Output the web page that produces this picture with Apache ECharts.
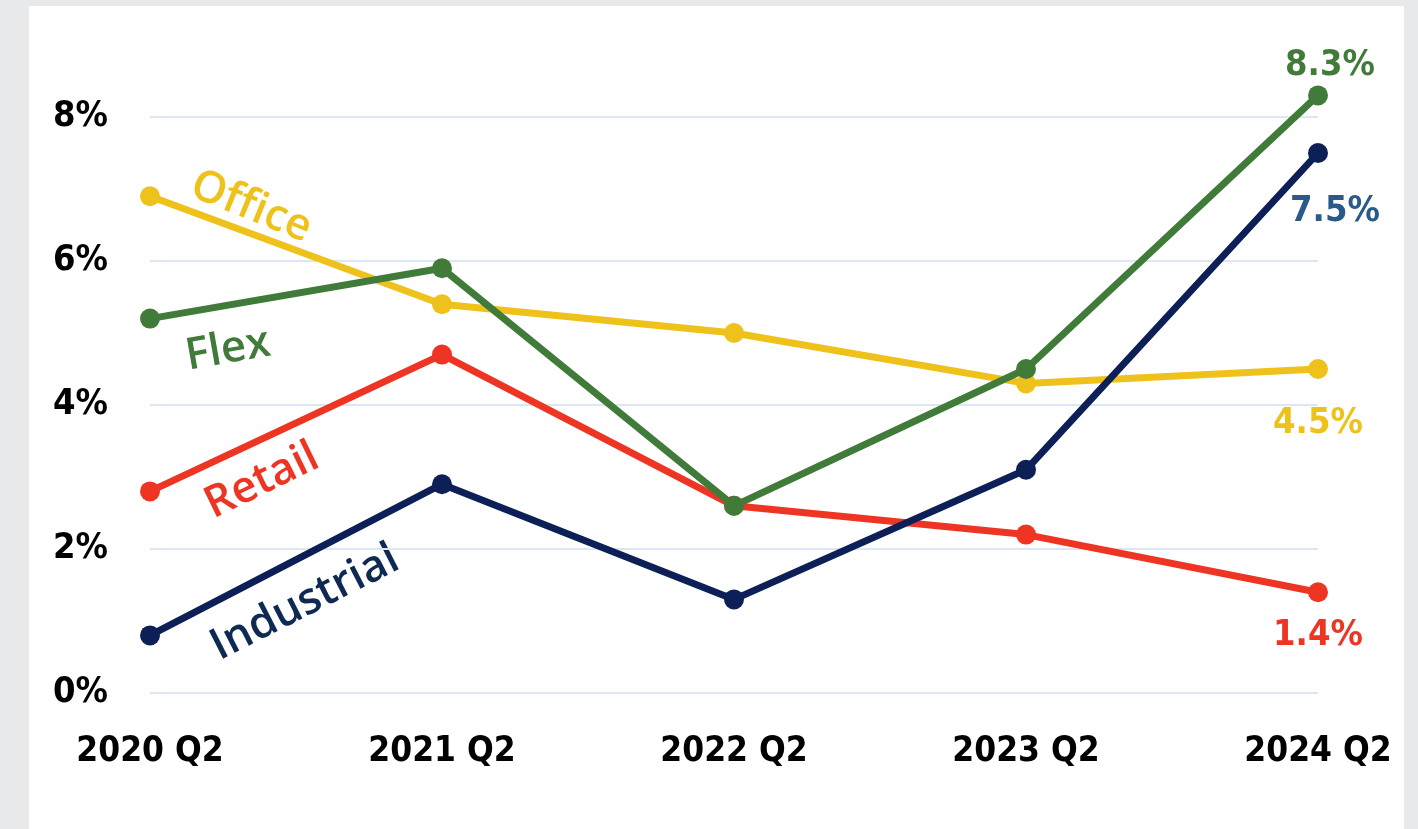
<!DOCTYPE html>
<html><head><meta charset="utf-8">
<script src="https://cdn.jsdelivr.net/npm/echarts@6/dist/echarts.min.js"></script>
<style>html,body{margin:0;padding:0;background:#e8e9eb;}#c{width:1418px;height:829px;}</style>
</head><body><div id="c"></div>
<script>
const categories = ['2020 Q2','2021 Q2','2022 Q2','2023 Q2','2024 Q2'];
const office = [6.9, 5.4, 5.0, 4.3, 4.5];
const flex = [5.2, 5.9, 2.6, 4.5, 8.3];
const retail = [2.8, 4.7, 2.6, 2.2, 1.4];
const industrial = [0.8, 2.9, 1.3, 3.1, 7.5];
const yTicks = [0, 2, 4, 6, 8];

const condFont = "'Liberation Sans Narrow','DejaVu Sans Condensed','Arial Narrow',sans-serif";

function endLabel(color, offset, pos) {
  return {
    show: true,
    position: pos,
    offset: offset,
    color: color,
    fontFamily: condFont,
    fontWeight: 'bold',
    fontSize: 36,
    formatter: p => p.dataIndex === categories.length - 1 ? p.value.toFixed(1) + '%' : ''
  };
}
function mk(name, data, color, lbl) {
  return {
    name, type: 'line', data, clip: false,
    symbol: 'circle', symbolSize: 20,
    lineStyle: { width: 7, color },
    itemStyle: { color },
    label: lbl,
    z: 3
  };
}
const chart = echarts.init(document.getElementById('c'));
chart.setOption({
  animation: false,
  backgroundColor: '#e8e9eb',
  grid: { left: 150, right: 100, top: 117, bottom: 136 },
  xAxis: {
    type: 'category', data: categories, boundaryGap: false,
    axisLine: { show: false }, axisTick: { show: false },
    axisLabel: { color: '#000', fontFamily: condFont, fontWeight: 'bold', fontSize: 35, margin: 41 }
  },
  yAxis: {
    type: 'value', min: 0, max: 8, interval: 2,
    axisLine: { show: false }, axisTick: { show: false },
    splitLine: { lineStyle: { color: '#dde7f4', width: 2 } },
    axisLabel: { color: '#000', fontFamily: condFont, fontWeight: 'bold', fontSize: 36, margin: 42,
      formatter: v => yTicks.includes(v) ? v + '%' : '' }
  },
  graphic: [
    { type: 'rect', left: 29, top: 6, shape: { width: 1375, height: 823 }, style: { fill: '#ffffff' }, z: -10 },
    { type: 'text', x: 251, y: 207, rotation: -22 * Math.PI / 180,
      style: { text: 'Office', fill: '#eec21a', font: "600 44px 'Open Sans'", align: 'center', verticalAlign: 'middle' } },
    { type: 'text', x: 228, y: 350, rotation: 10 * Math.PI / 180,
      style: { text: 'Flex', fill: '#417b3a', font: "600 44px 'Open Sans'", align: 'center', verticalAlign: 'middle' } },
    { type: 'text', x: 262, y: 481, rotation: 26 * Math.PI / 180,
      style: { text: 'Retail', fill: '#ee3524', font: "600 44px 'Open Sans'", align: 'center', verticalAlign: 'middle' } },
    { type: 'text', x: 305, y: 603, rotation: 27 * Math.PI / 180,
      style: { text: 'Industrial', fill: '#0e2a52', font: "600 44px 'Open Sans'", align: 'center', verticalAlign: 'middle' } }
  ],
  series: [
    mk('Office', office, '#eec21a', endLabel('#eec21a', [0, 22], 'bottom')),
    mk('Retail', retail, '#ee3524', endLabel('#ee3524', [0, 10], 'bottom')),
    mk('Flex', flex, '#417b3a', endLabel('#417b3a', [12, 3], 'top')),
    mk('Industrial', industrial, '#0c1f56', endLabel('#2a5a8a', [17, 26], 'bottom'))
  ]
});
</script></body></html>
